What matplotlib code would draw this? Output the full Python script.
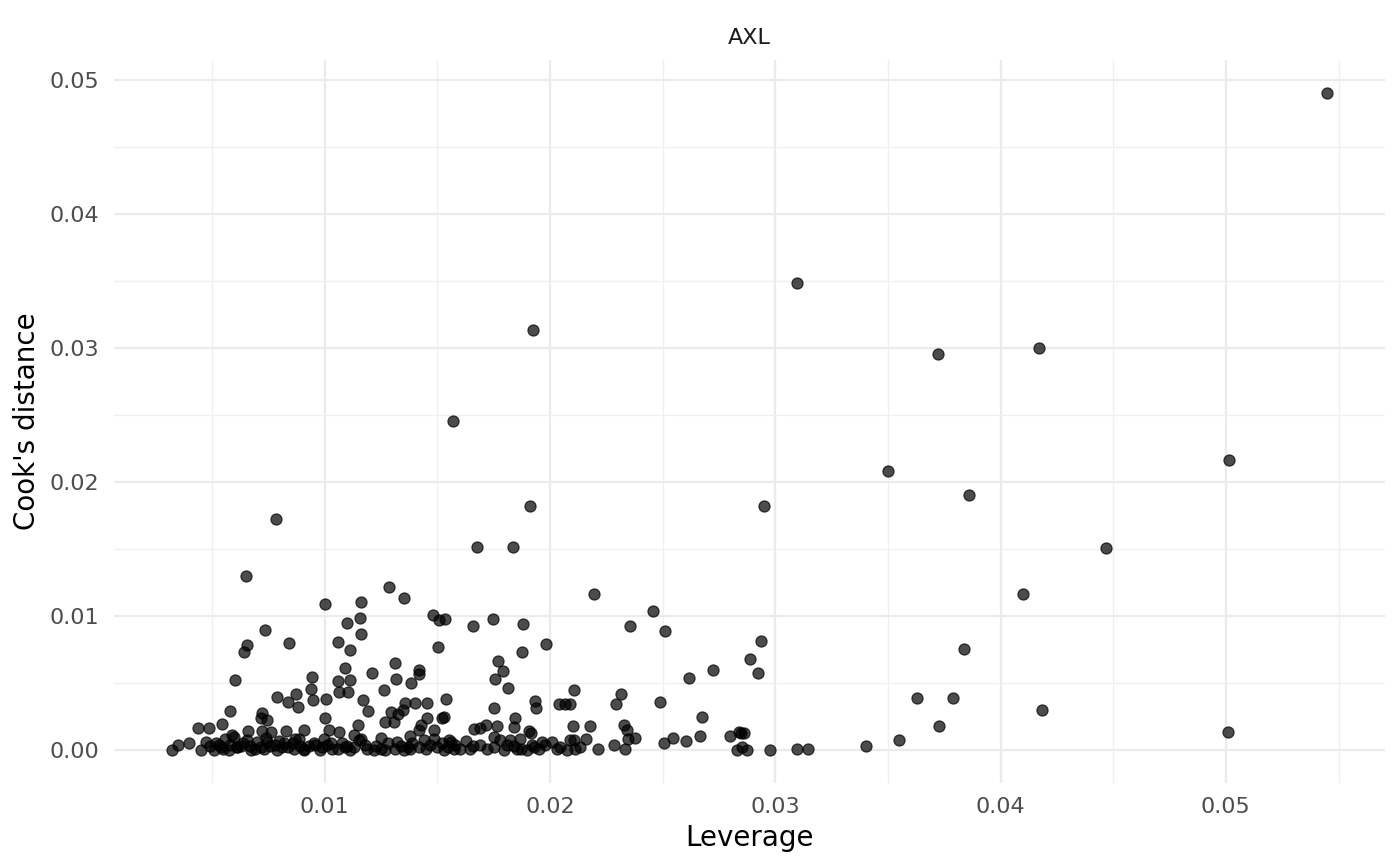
import matplotlib
matplotlib.use("Agg")
import matplotlib.pyplot as plt
import matplotlib.ticker as mpltick

# Leverage vs Cook's distance (gene AXL)
gene = "AXL"

# upper / isolated points
lev_upper = [0.0545, 0.03096, 0.01927, 0.03722, 0.04171, 0.01568, 0.03502, 0.05016,
             0.03859, 0.0191, 0.02949, 0.00784, 0.01677, 0.01838, 0.04466, 0.00651,
             0.01286, 0.02194, 0.04099, 0.01352, 0.01004, 0.0116, 0.02456, 0.01482,
             0.01509, 0.01534, 0.01659, 0.01748, 0.0188, 0.01101, 0.01157, 0.0116,
             0.00737, 0.02357, 0.02511, 0.02939]
cook_upper = [0.04905, 0.03488, 0.03132, 0.02955, 0.0300, 0.0246, 0.02087, 0.02164,
              0.01903, 0.01821, 0.01821, 0.01724, 0.01517, 0.01517, 0.01507, 0.01299,
              0.01214, 0.01167, 0.01164, 0.01135, 0.01093, 0.01105, 0.01041, 0.01006,
              0.00969, 0.00981, 0.00929, 0.00981, 0.0094, 0.00949, 0.00989, 0.00864,
              0.00894, 0.00924, 0.00892, 0.00812]

# right part, x > 0.02
lev_right = [0.0289, 0.02925, 0.02725, 0.02617, 0.02491, 0.02676, 0.02667, 0.028,
             0.0285, 0.0283, 0.02852, 0.02874, 0.02978, 0.03096, 0.03145, 0.02604,
             0.02545, 0.02506, 0.02317, 0.02294, 0.02327, 0.02342, 0.02347, 0.0238,
             0.02335, 0.02283, 0.02215, 0.02177, 0.02162, 0.02109, 0.02103, 0.02109,
             0.02135, 0.02091, 0.03837, 0.0363, 0.03789, 0.04183, 0.03728, 0.03551,
             0.03404, 0.05009, 0.0284, 0.0286]
cook_right = [0.00678, 0.00579, 0.00598, 0.00537, 0.00358, 0.00246, 0.00107, 0.00104,
              0.00129, 0.0, 0.0002, 0.0, 0.0, 0.00012, 0.00007, 0.00069,
              0.00092, 0.00052, 0.00422, 0.00348, 0.00189, 0.00149, 0.00084, 0.00092,
              0.00012, 0.0004, 0.00012, 0.00181, 0.0008, 0.00447, 0.00179, 0.00077,
              0.0002, 0.00348, 0.00756, 0.00386, 0.00386, 0.00303, 0.00184, 0.00075,
              0.00032, 0.00134, 0.00135, 0.00125]

# middle cluster, 0.012 < x < 0.021
lev_mid = [0.01504, 0.01877, 0.01985, 0.0177, 0.01792, 0.01755, 0.01815, 0.01313,
           0.0121, 0.01418, 0.01418, 0.01319, 0.01384, 0.01266, 0.01172, 0.01192,
           0.01359, 0.014, 0.01455, 0.01541, 0.01349, 0.01293, 0.01327, 0.01455,
           0.01522, 0.01532, 0.01267, 0.0131, 0.0143, 0.01418, 0.01488, 0.01751,
           0.01936, 0.0194, 0.02039, 0.02069, 0.01847, 0.0184, 0.01766, 0.01717,
           0.01689, 0.01662, 0.01906, 0.01917, 0.01381, 0.01251, 0.0116, 0.01322,
           0.0144, 0.01488, 0.01551, 0.0163, 0.01751, 0.0178, 0.01825, 0.01869,
           0.01965, 0.0201, 0.02047, 0.02088, 0.01189, 0.01219, 0.0127, 0.01315,
           0.01352, 0.01381, 0.01418, 0.015, 0.01529, 0.01573, 0.01647, 0.01722,
           0.01795, 0.0181, 0.01855, 0.01899, 0.0195, 0.02076, 0.02113,
           0.0123, 0.0125, 0.0128, 0.0134, 0.0137, 0.0145, 0.0147, 0.0152,
           0.0155, 0.0158, 0.0160, 0.0166, 0.0169, 0.0175, 0.0184, 0.0187,
           0.0193, 0.0198, 0.0203, 0.0192, 0.0156, 0.0139]
cook_mid = [0.0077, 0.00733, 0.0079, 0.00666, 0.00591, 0.00534, 0.00467, 0.00651,
            0.00579, 0.00601, 0.00566, 0.00529, 0.00504, 0.00447, 0.00373, 0.00293,
            0.00355, 0.00355, 0.00355, 0.0038, 0.00303, 0.00288, 0.00273, 0.00238,
            0.00243, 0.00248, 0.00211, 0.00211, 0.00186, 0.00149, 0.00154, 0.00311,
            0.00365, 0.00311, 0.00348, 0.00348, 0.00243, 0.00174, 0.00179, 0.00186,
            0.00169, 0.00161, 0.00144, 0.00129, 0.00107, 0.00092, 0.00082, 0.00062,
            0.00075, 0.0008, 0.00075, 0.00067, 0.00099, 0.00075, 0.00075, 0.00087,
            0.00062, 0.00062, 0.00025, 0.00075, 0.00012, 0.0, 0.0, 0.00012,
            0.0, 0.00012, 0.00025, 0.00025, 0.0, 0.00012, 0.00012, 0.00012,
            0.0, 0.00037, 0.00012, 0.0, 0.00012, 0.0, 0.00012,
            0.0003, 0.0001, 0.0005, 0.0003, 0.0002, 0.0001, 0.0004, 0.0005,
            0.0002, 0.0004, 0.0001, 0.0003, 0.0004, 0.0002, 0.0003, 0.0001,
            0.0002, 0.0004, 0.0001, 0.0004, 0.0006, 0.0005]

# left cluster, x < 0.012
lev_left = [0.00657, 0.00642, 0.00843, 0.00601, 0.01059, 0.01111, 0.01093, 0.01112,
            0.00944, 0.00938, 0.01061, 0.01063, 0.01105, 0.00874, 0.0079, 0.00837,
            0.00883, 0.0095, 0.01008, 0.00579, 0.00724, 0.00716, 0.00746, 0.01004,
            0.01149, 0.0044, 0.00486, 0.00543, 0.00588, 0.0066, 0.00724, 0.00761,
            0.00827, 0.00908, 0.01022, 0.01063, 0.0113, 0.00322, 0.00349, 0.00398,
            0.0045, 0.00472, 0.00509, 0.00539, 0.00576, 0.00613, 0.00657, 0.00672,
            0.00716, 0.00746, 0.0079, 0.0082, 0.00864, 0.00886, 0.00908, 0.00953,
            0.00997, 0.00982, 0.01034, 0.01078, 0.01115, 0.01152, 0.0053, 0.0063,
            0.0069, 0.0076, 0.0084, 0.0093, 0.0101, 0.0109, 0.0056, 0.0080,
            0.0049, 0.0052, 0.0055, 0.0058, 0.0061, 0.0064, 0.0067, 0.0070,
            0.0073, 0.0078, 0.0081, 0.0086, 0.0089, 0.0091, 0.0096, 0.0099,
            0.0103, 0.0106, 0.0110, 0.0113, 0.0118, 0.0060, 0.0074, 0.0087]
cook_left = [0.00788, 0.00733, 0.008, 0.00527, 0.00807, 0.0075, 0.00616, 0.00527,
             0.00546, 0.00455, 0.00517, 0.00435, 0.00432, 0.00417, 0.00397, 0.00358,
             0.0032, 0.00373, 0.0038, 0.00291, 0.00278, 0.00241, 0.00224, 0.00243,
             0.00191, 0.00166, 0.00164, 0.00199, 0.00112, 0.00144, 0.00144, 0.00137,
             0.00144, 0.00149, 0.00149, 0.00137, 0.00114, 0.0, 0.00035, 0.00055,
             0.0, 0.00062, 0.0, 0.00025, 0.0, 0.00025, 0.00075, 0.0,
             0.00025, 0.00062, 0.0, 0.0005, 0.00012, 0.00087, 0.0, 0.0005,
             0.00087, 0.0, 0.00012, 0.0005, 0.0, 0.00075, 0.0004, 0.0003,
             0.0001, 0.0003, 0.0002, 0.0003, 0.0004, 0.0002, 0.0008, 0.0007,
             0.0003, 0.0005, 0.0001, 0.0004, 0.0002, 0.0005, 0.0003, 0.0006,
             0.0001, 0.0004, 0.0002, 0.0005, 0.0003, 0.0001, 0.0004, 0.0002,
             0.0005, 0.0001, 0.0003, 0.0002, 0.0004, 0.0010, 0.0009, 0.0008]

leverage = lev_upper + lev_right + lev_mid + lev_left
cooks = cook_upper + cook_right + cook_mid + cook_left

plt.rcParams["font.family"] = ["DejaVu Sans"]

fig = plt.figure(figsize=(14, 8.66), dpi=100)
ax = fig.add_axes([0.0814, 0.0958, 0.9079, 0.8349])

ax.scatter(leverage, cooks, s=64, color="black", alpha=0.7, linewidths=0.9,
           edgecolors="black", zorder=3)

# ggplot-like expansion of 5 %
xmin, xmax = min(leverage), max(leverage)
ymin, ymax = min(cooks), max(cooks)
dx, dy = 0.05 * (xmax - xmin), 0.05 * (ymax - ymin)
ax.set_xlim(xmin - dx, xmax + dx)
ax.set_ylim(ymin - dy, ymax + dy)

ax.xaxis.set_major_locator(mpltick.FixedLocator([0.01, 0.02, 0.03, 0.04, 0.05]))
ax.xaxis.set_minor_locator(mpltick.FixedLocator([0.005, 0.015, 0.025, 0.035, 0.045, 0.055]))
ax.yaxis.set_major_locator(mpltick.FixedLocator([0.0, 0.01, 0.02, 0.03, 0.04, 0.05]))
ax.yaxis.set_minor_locator(mpltick.FixedLocator([0.005, 0.015, 0.025, 0.035, 0.045]))
ax.xaxis.set_major_formatter(mpltick.FormatStrFormatter("%.2f"))
ax.yaxis.set_major_formatter(mpltick.FormatStrFormatter("%.2f"))

ax.grid(which="major", color="#ebebeb", linewidth=1.6, zorder=0)
ax.grid(which="minor", color="#f0f0f0", linewidth=0.95, zorder=0)
ax.set_axisbelow(True)
for sp in ax.spines.values():
    sp.set_visible(False)
ax.tick_params(which="both", length=0)
ax.tick_params(axis="both", labelsize=16, labelcolor="#4d4d4d")
ax.tick_params(axis="y", pad=10.5)
ax.tick_params(axis="x", pad=10)

ax.set_xlabel("Leverage", fontsize=20, color="black", labelpad=5)
ax.set_ylabel("Cook's distance", fontsize=20, color="black", labelpad=6)

# facet strip
ax.text(0.5, 1.0304, gene, transform=ax.transAxes, ha="center", va="center",
        fontsize=16, color="#1a1a1a")

fig.savefig("out.png", dpi=100)
